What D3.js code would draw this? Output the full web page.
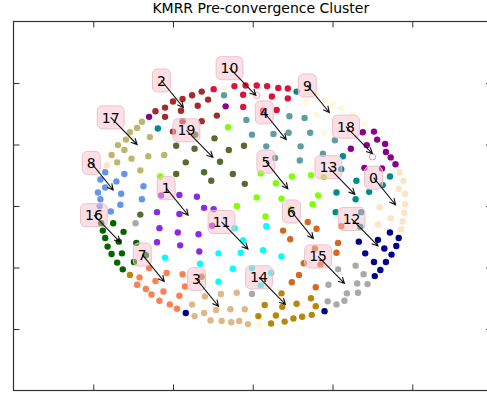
<!DOCTYPE html>
<html>
<head>
<meta charset="utf-8">
<script src="https://cdn.jsdelivr.net/npm/d3@7"></script>
<style>
  html, body { margin: 0; padding: 0; background: #fff; }
  svg { display: block; font-family: "DejaVu Sans", sans-serif; }
</style>
</head>
<body>
<svg id="chart" width="487" height="394"></svg>
<script>
// ---- data -------------------------------------------------------------
const chartTitle = "KMRR Pre-convergence Cluster";

const clusterIds = [0, 1, 2, 3, 4, 5, 6, 7, 8, 9, 10, 11, 12, 13, 14, 15, 16, 17, 18, 19];
const clusterColors = ["bisque", "blueviolet", "brown", "burlywood", "cadetblue",
  "chartreuse", "chocolate", "coral", "cornflowerblue", "cornsilk",
  "crimson", "cyan", "darkblue", "darkcyan", "darkgoldenrod",
  "darkgray", "darkgreen", "darkkhaki", "darkmagenta", "darkolivegreen"];

const xTicks = [-2, -1, 0, 1, 2];
const yTicks = [-2, -1, 0, 1, 2];

// member points of each cluster, [x, y]
const cluster0 = [[1.84,0.55],[1.89,0.41],[1.83,0.28],[1.91,0.20],[1.91,0.03],[1.90,-0.11],[1.88,-0.25],[1.86,-0.38],[1.59,-0.02],[1.73,-0.20],[1.57,-0.30],[-1.83,0.66]];
const cluster1 = [[-1.15,0.17],[-0.92,0.18],[-0.70,0.15],[-0.61,-0.03],[-0.49,-0.05],[-1.20,-0.10],[-0.92,-0.13],[-0.51,-0.32],[-1.17,-0.36],[-0.94,-0.43],[-0.68,-0.46],[-1.20,-0.59],[-0.91,-0.64],[-0.67,-0.74]];
const cluster2 = [[-1.10,1.60],[-1.00,1.70],[-0.88,1.74],[-0.76,1.80],[-0.64,1.86],[-0.56,1.73],[-0.69,1.63],[-0.90,1.55],[-1.10,1.45],[-1.22,1.54],[-0.88,1.38],[-0.64,1.38],[-0.45,1.47],[-1.00,1.21]];
const cluster3 = [[-0.76,-1.60],[-0.73,-1.79],[-0.60,-1.47],[-0.61,-1.74],[-0.53,-1.86],[-0.46,-1.69],[-0.40,-1.43],[-0.39,-1.87],[-0.28,-1.68],[-0.27,-1.89],[-0.20,-1.41],[-0.17,-1.87],[-0.10,-1.68],[-0.06,-1.92]];
const cluster4 = [[-0.36,1.80],[-0.08,1.40],[0.46,1.46],[0.65,1.43],[-0.01,1.16],[0.26,1.17],[0.45,1.19],[0.72,1.19],[1.03,1.07],[0.17,0.97],[0.28,0.78],[0.60,0.97],[0.59,0.74],[0.88,0.85]];
const cluster5 = [[-0.31,1.28],[-1.16,0.48],[-0.20,0.00],[0.10,0.53],[0.29,0.37],[0.49,0.48],[0.73,0.50],[0.89,0.47],[0.82,0.17],[0.75,0.03],[0.05,0.14],[0.36,0.12],[0.16,-0.17],[0.48,-0.05]];
const cluster6 = [[-0.64,-1.15],[0.38,-0.40],[0.47,-0.54],[0.69,-0.26],[0.80,-0.37],[1.11,-0.33],[1.07,-0.60],[1.05,-0.76],[0.78,-0.69],[0.85,-0.95],[0.64,-0.93],[0.58,-1.12],[0.49,-1.24],[0.79,-1.32]];
const cluster7 = [[-1.42,-1.16],[-1.08,-1.09],[-1.30,-1.01],[-1.22,-1.22],[-1.45,-1.28],[-1.34,-1.35],[-1.12,-1.39],[-1.27,-1.44],[-0.88,-1.11],[-0.85,-1.31],[-1.17,-1.54],[-0.92,-1.46],[-1.04,-1.60],[-0.95,-1.67]];
const cluster8 = [[-1.85,0.55],[-1.61,0.52],[-1.91,0.43],[-1.71,0.40],[-1.85,0.30],[-1.37,0.32],[-1.94,0.22],[-1.65,0.20],[-1.91,0.11],[-1.39,0.11],[-1.66,0.02],[-1.92,0.00],[-1.78,-0.09]];
const cluster9 = [[-0.36,1.91],[0.67,1.83],[0.67,1.69],[0.80,1.79],[0.91,1.72],[1.00,1.66],[1.11,1.59],[1.25,1.49],[1.41,1.34],[0.80,1.48],[0.89,1.19],[0.08,-1.93]];
const cluster10 = [[-0.49,1.90],[-0.23,1.95],[-0.09,1.96],[0.05,1.96],[0.18,1.95],[0.32,1.92],[0.44,1.91],[-0.12,1.81],[0.24,1.78],[0.44,1.75],[-0.12,1.61],[0.13,1.55],[0.30,1.56]];
const cluster11 = [[-1.10,-0.84],[-0.66,-0.94],[-0.43,-0.77],[-0.23,-0.36],[-0.12,-0.56],[-0.15,-0.76],[-0.25,-1.02],[-0.43,-1.23],[0.17,-0.33],[0.13,-0.72],[0.36,-0.82],[-0.01,-1.01],[0.23,-1.09],[0.10,-1.29]];
const cluster12 = [[-0.84,-1.74],[0.90,-1.71],[1.33,-0.58],[1.41,-0.77],[1.52,-0.91],[1.53,-1.14],[1.60,-1.04],[1.67,-0.91],[1.74,-0.79],[1.57,-0.55],[1.65,-0.69],[1.72,-0.43],[1.80,-0.65],[1.83,-0.52]];
const cluster13 = [[0.55,1.86],[-1.19,1.26],[1.13,0.81],[1.11,0.60],[1.30,0.41],[1.05,0.22],[1.46,0.23],[1.63,0.34],[1.72,0.48],[1.04,-0.10],[1.36,-0.10],[1.35,-0.34],[1.29,0.11]];
const cluster14 = [[-1.54,-1.12],[0.36,-1.42],[0.15,-1.61],[0.37,-1.64],[0.55,-1.59],[0.73,-1.50],[0.79,-1.63],[0.07,-1.79],[0.29,-1.78],[0.51,-1.83],[0.62,-1.80],[0.74,-1.77],[0.23,-1.91],[0.40,-1.88]];
const cluster15 = [[-1.47,-0.28],[-0.01,-1.43],[1.07,-1.03],[1.29,-0.97],[0.95,-1.28],[1.31,-1.26],[1.39,-1.11],[1.44,-1.27],[1.18,-1.42],[1.32,-1.41],[1.15,-1.54],[1.05,-1.60],[0.94,-1.55]];
const cluster16 = [[-1.90,-0.28],[-1.75,-0.28],[-1.88,-0.40],[-1.62,-0.42],[-1.85,-0.52],[-1.68,-0.58],[-1.46,-0.60],[-1.82,-0.66],[-1.64,-0.77],[-1.77,-0.78],[-1.34,-0.80],[-1.49,-0.91],[-1.70,-0.92],[-1.63,-1.03]];
const cluster17 = [[-1.39,1.37],[-1.45,1.27],[-1.54,1.20],[-1.59,1.08],[-1.69,0.99],[-1.29,1.12],[-1.61,0.91],[-1.77,0.83],[-1.52,0.77],[-1.31,0.81],[-1.11,0.83],[-1.70,0.71],[-1.41,0.58]];
const cluster18 = [[-1.30,1.45],[-0.34,1.62],[1.38,1.20],[1.52,1.21],[1.56,1.08],[1.66,1.01],[1.67,0.88],[1.73,0.79],[1.79,0.68],[1.23,0.93],[1.40,0.62],[1.62,0.61],[1.43,0.99]];
const cluster19 = [[-0.96,0.98],[-0.73,0.93],[-0.48,1.10],[-0.30,0.91],[-0.11,0.98],[-0.84,0.71],[-0.61,0.55],[-0.52,0.41],[-0.25,0.52],[-0.10,0.36],[-0.96,0.52],[-0.41,0.72],[-1.41,-0.14],[-0.72,1.16]];

// points of a cluster still sitting on an empty (unfilled) position
const openCluster = [10, 18, 0];
const openX = [0.05, 1.50, 1.81];
const openY = [1.80, 0.80, -0.03];

// position each cluster label points at
const anchorX = [1.79, -0.81, -0.87, -0.43, 0.42, 0.44, 0.76, -1.11, -1.75, 0.96, 0.04, -0.06, 1.57, 1.28, 0.41, 1.15, -1.66, -1.45, 1.50, -0.50];
const anchorY = [0.02, -0.15, 1.60, -1.63, 1.08, 0.28, -0.53, -1.23, 0.26, 1.52, 1.80, -0.70, -0.65, 0.19, -1.60, -1.26, -0.59, 1.00, 0.85, 0.79];

const clusterPoints = [cluster0, cluster1, cluster2, cluster3, cluster4, cluster5, cluster6,
  cluster7, cluster8, cluster9, cluster10, cluster11, cluster12, cluster13, cluster14,
  cluster15, cluster16, cluster17, cluster18, cluster19];

// ---- layout -------------------------------------------------------------
const svg = d3.select("#chart");
const frame = { left: 13.5, right: 492, top: 21.5, bottom: 390.5 };

const x = d3.scaleLinear().domain([-3, 3]).range([frame.left, frame.right]);
const y = d3.scaleLinear().domain([-3, 3]).range([frame.bottom, frame.top]);

// title
svg.append("text")
  .attr("x", 260.8)
  .attr("y", 13)
  .attr("text-anchor", "middle")
  .attr("font-size", "14px")
  .attr("fill", "#000")
  .text(chartTitle);

// ticks on all four sides, pointing inwards, no labels
const tickLen = 6;
function styleAxis(g) {
  g.select(".domain").remove();
  g.selectAll(".tick line").attr("stroke", "#333").attr("stroke-width", 1);
  g.selectAll(".tick text").remove();
}
svg.append("g").attr("transform", `translate(0,${frame.bottom})`)
  .call(d3.axisBottom(x).tickValues(xTicks).tickSize(-tickLen).tickFormat(""))
  .call(styleAxis);
svg.append("g").attr("transform", `translate(0,${frame.top})`)
  .call(d3.axisTop(x).tickValues(xTicks).tickSize(-tickLen).tickFormat(""))
  .call(styleAxis);
svg.append("g").attr("transform", `translate(${frame.left},0)`)
  .call(d3.axisLeft(y).tickValues(yTicks).tickSize(-tickLen).tickFormat(""))
  .call(styleAxis);
svg.append("g").attr("transform", `translate(${frame.right},0)`)
  .call(d3.axisRight(y).tickValues(yTicks).tickSize(-tickLen).tickFormat(""))
  .call(styleAxis);

// frame
svg.append("rect")
  .attr("x", frame.left)
  .attr("y", frame.top)
  .attr("width", frame.right - frame.left)
  .attr("height", frame.bottom - frame.top)
  .attr("fill", "none")
  .attr("stroke", "#333")
  .attr("stroke-width", 1.2);

// ---- scatter -------------------------------------------------------------
const pointR = 3.2;
const pts = svg.append("g");
clusterIds.forEach(id => {
  pts.append("g")
    .selectAll("circle")
    .data(clusterPoints[id])
    .join("circle")
    .attr("cx", d => x(d[0]))
    .attr("cy", d => y(d[1]))
    .attr("r", pointR)
    .attr("fill", clusterColors[id]);
});

pts.append("g")
  .selectAll("circle")
  .data(openCluster.map((c, i) => ({ c, px: openX[i], py: openY[i] })))
  .join("circle")
  .attr("cx", d => x(d.px))
  .attr("cy", d => y(d.py))
  .attr("r", pointR)
  .attr("fill", "#fff")
  .attr("stroke", d => clusterColors[d.c])
  .attr("stroke-opacity", 0.5)
  .attr("stroke-width", 0.8);

// ---- cluster labels with arrows -----------------------------------------
const ann = svg.append("g");
const textDX = -17.5;   // right edge of label relative to the anchor
const textDY = -22;     // baseline relative to the anchor
clusterIds.forEach(id => {
  const tx = x(anchorX[id]);
  const ty = y(anchorY[id]);
  const g = ann.append("g");
  const box = g.append("rect");
  const line = g.append("path");
  const label = g.append("text")
    .attr("x", tx + textDX)
    .attr("y", ty + textDY)
    .attr("text-anchor", "end")
    .attr("font-size", "14px")
    .attr("fill", "#000")
    .text(String(id));
  const w = label.node().getComputedTextLength();
  const cx = tx + textDX - w / 2;
  const cy = ty + textDY - 5.1;
  box.attr("x", cx - w / 2 - 4.5)
    .attr("y", cy - 11.5)
    .attr("width", w + 9)
    .attr("height", 23)
    .attr("rx", 5)
    .attr("fill", "pink")
    .attr("fill-opacity", 0.5)
    .attr("stroke", "#e9c3c8")
    .attr("stroke-width", 1);

  const ang = Math.atan2(ty - cy, tx - cx);
  const hl = 6, hw = 3;
  const bx = tx - hl * Math.cos(ang), by = ty - hl * Math.sin(ang);
  const px = -Math.sin(ang) * hw, py = Math.cos(ang) * hw;
  line.attr("d",
      `M${cx},${cy}L${tx},${ty}` +
      `M${bx + px},${by + py}L${tx},${ty}L${bx - px},${by - py}`)
    .attr("fill", "none")
    .attr("stroke", "#111")
    .attr("stroke-width", 1.1);
});
</script>
</body>
</html>
